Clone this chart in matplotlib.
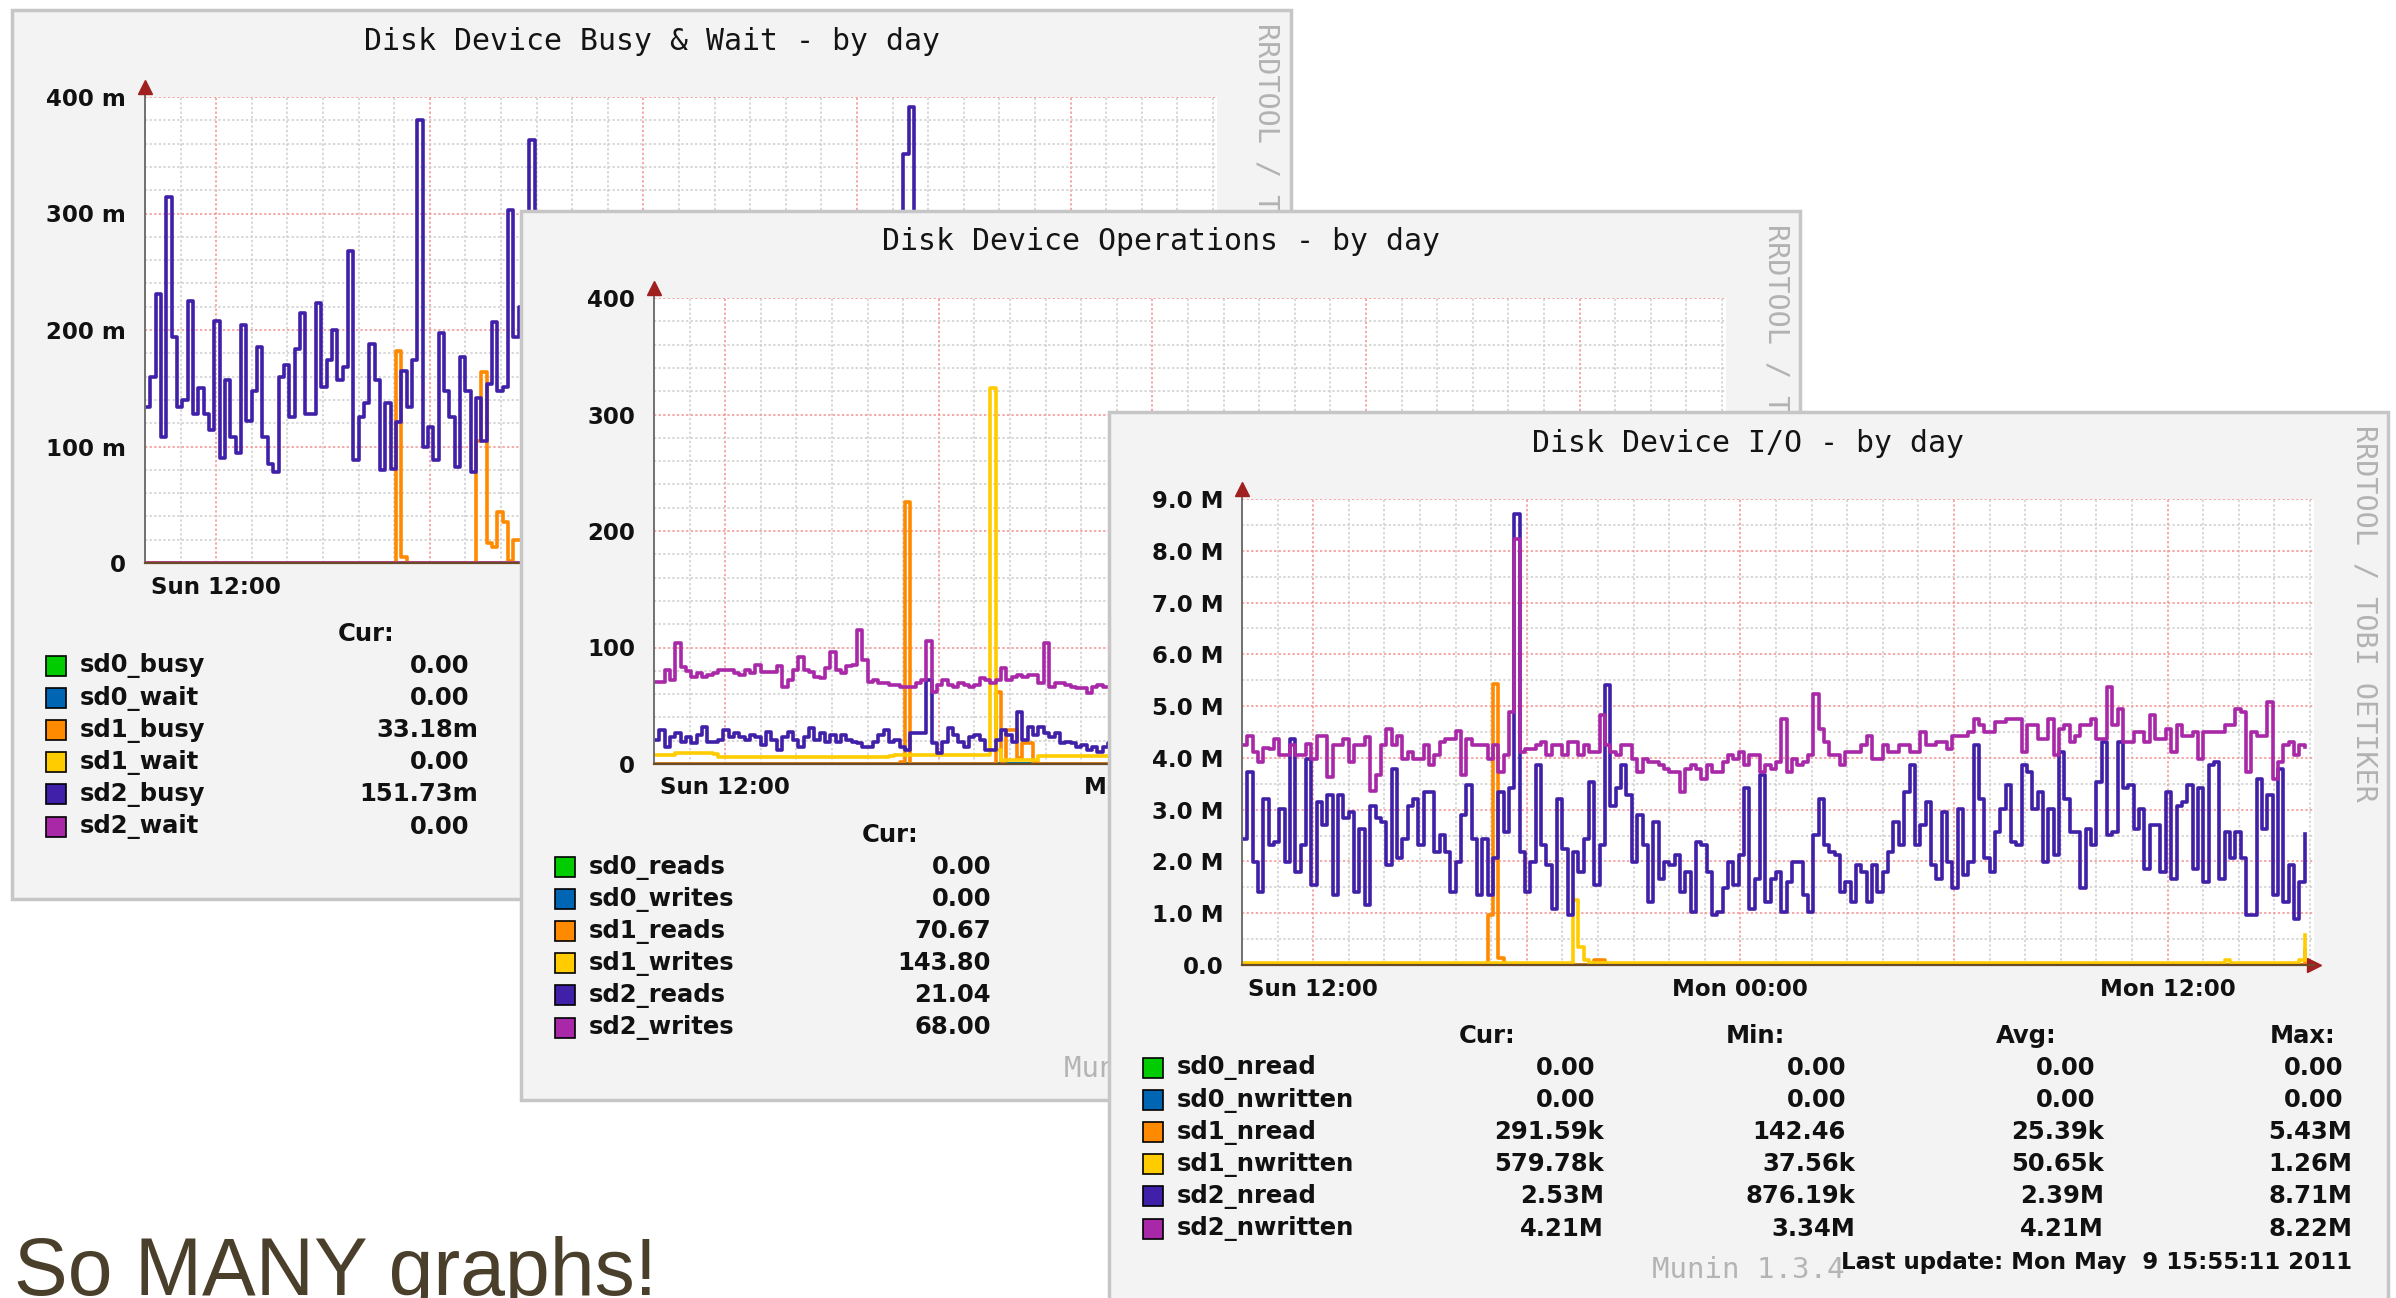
import numpy as np
import matplotlib
matplotlib.use("Agg")
import matplotlib.pyplot as plt
from matplotlib.patches import Rectangle

W, H = 2396, 1298
T0, STEP = 10.0, 0.15          # hours since Sun 00:00, one sample per step
PX_PER_HOUR = 35.6

# munin colour order
colors = ["#00cc00", "#0066b3", "#ff8a00", "#ffcc00", "#4020a8", "#a828a8"]

hour_major = [12, 18, 24, 30, 36]
hour_labels = ["Sun 12:00", "", "Mon 00:00", "", "Mon 12:00"]

# ---------------- Disk Device Busy & Wait (milli) ----------------
busy_names = ["sd0_busy", "sd0_wait", "sd1_busy", "sd1_wait", "sd2_busy", "sd2_wait"]
busy_cur = ["0.00", "0.00", "33.18m", "0.00", "151.73m", "0.00"]
sd2_busy = [134, 160, 231, 108, 314, 194, 134, 140, 225, 128,
            150, 128, 114, 208, 90, 157, 108, 94, 204, 122,
            148, 185, 108, 85, 78, 160, 170, 125, 184, 215,
            128, 128, 223, 151, 174, 200, 157, 168, 268, 88,
            125, 137, 188, 157, 80, 137, 81, 121, 165, 134,
            174, 380, 100, 117, 88, 197, 148, 125, 82, 177,
            148, 78, 142, 105, 154, 207, 148, 151, 303, 194,
            220, 168, 363,
            210, 160, 120, 185, 140, 95, 170, 205, 130, 150,
            115, 190, 240, 165, 100, 135, 180, 120, 85, 160,
            200, 145, 110, 175, 230, 150, 125, 90, 165, 140,
            185, 115, 150, 210, 130, 95, 170, 145, 120, 190,
            160, 105, 135, 220, 175, 140, 100, 155, 185, 125,
            90, 145, 170, 200, 130, 115, 160, 240, 150, 120,
            175, 135, 95, 150, 185, 210, 140, 110, 165,
            351, 391, 150,
            120, 180, 135, 100, 160, 195, 145, 115, 170, 130,
            90, 150, 205, 175, 125, 140, 110, 185, 160, 95,
            135, 170, 220, 145, 115, 150, 190, 130, 100, 165,
            140, 180, 120, 155, 210, 135, 95, 170, 145, 125,
            185, 160, 110, 140, 200, 150, 120, 175, 130, 165,
            140, 105, 180, 125, 151.73]
sd1_busy_idx = [47, 48, 62, 63, 64, 65, 66, 67, 68, 69, 70, 71, 199]
sd1_busy_val = [182, 5, 105, 164, 17, 14, 44, 35, 2, 20, 20, 8, 33.18]

# ---------------- Disk Device Operations ----------------
ops_names = ["sd0_reads", "sd0_writes", "sd1_reads", "sd1_writes", "sd2_reads", "sd2_writes"]
ops_cur = ["0.00", "0.00", "70.67", "143.80", "21.04", "68.00"]
sd2_writes = [70.7, 70.7, 80.7, 72.1, 103.6, 83.5, 80.0, 75.0, 77.8, 75.0,
              76.5, 77.8, 80.7, 80.7, 80.7, 77.8, 76.5, 80.7, 77.8, 85.0,
              79.3, 79.3, 79.3, 83.7, 66.3, 72.1, 80.7, 92.2, 80.7, 79.3,
              75.0, 73.5, 82.1, 96.0, 80.7, 77.8, 83.7, 85.0, 115.0, 89.0,
              70.7, 72.1, 69.2, 69.2, 67.8, 67.8, 66.3, 66.3, 66.3, 69.2,
              72.1, 106.0, 62.0, 67.8, 72.1, 67.8, 66.3, 69.2, 67.8, 66.3,
              67.8, 73.5, 72.1, 69.2, 72.1, 82.1, 72.1, 75.0, 76.5, 75.0,
              76.5, 76.5, 69.2, 103.6, 66.3, 69.2, 69.2, 67.8, 66.3, 64.9,
              64.9, 60.7, 66.3, 67.8, 66.3, 66.3,
              70, 68, 72, 75, 71, 69, 66, 73, 78, 72,
              70, 67, 65, 71, 74, 69, 72, 76, 70, 68,
              66, 71, 73, 69, 75, 80, 72, 70, 68, 71,
              74, 70, 67, 69, 72, 78, 73, 70, 68, 66,
              71, 75, 72, 69, 73, 70, 76, 82, 74, 71,
              69, 72, 75, 71, 68, 70, 73, 77, 72, 70,
              74, 71, 69, 72, 76, 73, 70, 68, 71, 75,
              72, 70, 74, 79, 73, 71, 69, 72, 75, 70,
              68, 71, 73, 70, 74, 77, 72, 69, 71, 73,
              70, 68, 72, 75, 71, 69, 73, 70, 67, 71,
              74, 72, 69, 71, 75, 70, 68, 72, 70, 69,
              71, 70, 69, 68.00]
sd2_reads = [20.6, 29.2, 14.9, 23.5, 26.3, 19.2, 23.5, 17.7, 24.9, 32.0,
             19.2, 19.2, 20.6, 29.2, 23.5, 26.3, 23.5, 20.6, 24.9, 23.5,
             16.3, 27.8, 20.6, 12.0, 23.5, 27.8, 20.6, 14.9, 23.5, 30.6,
             20.6, 26.3, 19.2, 24.9, 19.2, 24.9, 20.6, 19.2, 17.7, 14.9,
             14.9, 19.2, 24.9, 29.2, 19.2, 20.6, 14.9, 12.0, 26.3, 26.3,
             26.3, 72.1, 17.7, 9.2, 19.2, 30.6, 24.9, 19.2, 14.9, 23.5,
             24.9, 20.6, 12.0, 12.0, 20.6, 29.2, 24.9, 19.2, 44.9, 20.6,
             32.0, 24.9, 32.0, 26.3, 23.5, 26.3, 17.7, 19.2, 17.7, 14.9,
             16.3, 12.0, 14.9, 10.6, 14.9, 17.7,
             18, 22, 15, 25, 20, 17, 28, 21, 16, 24,
             19, 23, 14, 20, 26, 18, 22, 17, 25, 21,
             16, 20, 24, 19, 27, 22, 15, 21, 18, 23,
             20, 17, 25, 22, 19, 14, 21, 26, 18, 20,
             23, 17, 21, 28, 19, 16, 22, 24, 18, 21,
             25, 20, 15, 22, 19, 23, 17, 26, 21, 18,
             20, 24, 16, 22, 19, 27, 21, 17, 23, 20,
             18, 22, 25, 19, 16, 21, 24, 20, 17, 22,
             26, 19, 21, 15, 23, 20, 18, 25, 22, 19,
             17, 21, 24, 20, 16, 22, 19, 27, 21, 18,
             23, 20, 17, 22, 25, 19, 21, 16, 24, 20,
             18, 22, 19, 21.04]
sd1_writes = [7.7, 7.7, 7.7, 7.7, 9.2, 9.2, 9.2, 9.2, 9.2, 9.2,
              9.2, 8.5, 6.3, 6.3, 6.3, 6.3, 6.3, 6.3, 6.3, 6.3,
              6.3, 6.3, 6.3, 6.3, 6.3, 6.3, 6.3, 6.3, 6.3, 6.3,
              6.3, 6.3, 6.3, 6.3, 6.3, 6.3, 6.3, 6.3, 6.3, 6.3,
              6.3, 6.3, 6.3, 6.3, 6.9, 7.7, 7.7, 7.7, 7.7, 7.7,
              7.7, 7.7, 7.7, 7.7, 7.7, 7.7, 7.7, 7.7, 7.7, 7.7,
              7.7, 7.7, 7.7, 323, 12, 3.4, 3.4, 3.4, 3.4, 3.4,
              3.4, 3.4, 6.9, 6.9, 6.9, 6.9, 6.9, 6.9, 6.9, 6.9,
              6.9, 6.9, 6.9, 6.9, 6.9, 6.9,
              6.9, 6.9, 7.2, 7.2, 6.5, 6.5, 6.5, 6.9, 6.9, 6.9,
              7.5, 7.5, 6.6, 6.6, 6.6, 6.9, 6.9, 7.1, 7.1, 6.8,
              6.8, 6.8, 6.4, 6.4, 6.9, 6.9, 7.3, 7.3, 6.7, 6.7,
              6.7, 6.5, 6.5, 6.9, 6.9, 7.0, 7.0, 6.6, 6.6, 6.6,
              6.8, 6.8, 7.2, 7.2, 6.9, 6.9, 6.5, 6.5, 6.8, 6.8,
              7.1, 7.1, 6.7, 6.7, 6.9, 6.9, 6.6, 6.6, 7.0, 7.0,
              6.8, 6.8, 6.5, 6.5, 7.2, 7.2, 6.9, 6.9, 6.7, 6.7,
              7.0, 7.0, 6.6, 6.6, 6.8, 6.8, 7.1, 7.1, 6.9, 6.9,
              6.5, 6.5, 6.8, 6.8, 7.0, 7.0, 6.7, 6.7, 6.9, 6.9,
              7.2, 7.2, 6.6, 6.6, 6.8, 6.8, 7.0, 7.0, 6.7, 6.7,
              6.9, 6.9, 6.5, 6.5, 7.1, 7.1, 6.8, 6.8, 7.0, 7.0,
              6.8, 6.8, 24.5, 143.80]
sd1_reads_idx = [46, 47, 64, 65, 66, 67, 68, 69, 70, 71, 199]
sd1_reads_val = [2, 224.6, 62, 3, 29, 29, 5, 17.7, 17.7, 2, 70.67]

# ---------------- Disk Device I/O (M) ----------------
io_names = ["sd0_nread", "sd0_nwritten", "sd1_nread", "sd1_nwritten", "sd2_nread", "sd2_nwritten"]
io_cur = ["0.00", "0.00", "291.59k", "579.78k", "2.53M", "4.21M"]
io_min = ["0.00", "0.00", "142.46", "37.56k", "876.19k", "3.34M"]
io_avg = ["0.00", "0.00", "25.39k", "50.65k", "2.39M", "4.21M"]
io_max = ["0.00", "0.00", "5.43M", "1.26M", "8.71M", "8.22M"]
sd2_nread = [2.44, 3.73, 1.99, 1.41, 3.21, 2.31, 2.38, 3.02, 1.99, 4.37,
             1.80, 2.31, 3.98, 1.54, 3.15, 2.70, 3.28, 1.35, 3.28, 2.83,
             2.96, 1.41, 2.63, 1.16, 3.08, 2.83, 2.76, 1.93, 3.79, 2.06,
             2.44, 3.08, 3.21, 2.31, 3.34, 3.34, 2.19, 2.51, 2.19, 1.41,
             1.99, 2.89, 3.47, 2.44, 1.35, 2.44, 1.35, 2.06, 3.34, 2.57,
             3.41, 8.71, 2.19, 1.41, 1.99, 3.86, 2.31, 1.93, 1.09, 3.21,
             2.25, 0.96, 2.19, 1.80, 2.44, 3.53, 1.54, 2.31, 5.40, 3.08,
             3.41, 3.86, 3.28, 1.99, 2.89, 2.31, 1.22, 2.76, 1.67, 1.99,
             1.93, 2.12, 1.41, 1.80, 1.03, 2.38, 2.31, 1.80, 0.96, 1.03,
             1.48, 1.99, 1.54, 2.12, 3.41, 1.09, 1.67, 3.66, 1.22, 1.67,
             1.80, 1.03, 1.61, 1.99, 1.99, 1.35, 1.03, 2.51, 3.21, 2.31,
             2.19, 2.12, 1.41, 1.61, 1.22, 1.93, 1.80, 1.22, 1.93, 1.41,
             1.80, 2.19, 2.76, 2.31, 3.34, 3.86, 2.31, 2.70, 3.15, 1.93,
             1.67, 2.96, 1.99, 1.48, 3.02, 1.74, 1.99, 4.24, 3.21, 2.06,
             1.80, 2.57, 3.02, 3.47, 2.38, 2.31, 3.86, 3.73, 3.02, 3.34,
             1.99, 3.02, 2.12, 4.11, 3.21, 2.57, 2.57, 1.48, 2.63, 2.31,
             3.53, 4.31, 2.51, 2.57, 4.31, 3.41, 3.47, 2.63, 3.02, 1.86,
             2.70, 2.70, 1.80, 3.34, 1.67, 3.08, 3.15, 3.47, 1.86, 3.41,
             1.61, 3.86, 3.92, 1.67, 2.57, 2.06, 2.57, 2.06, 0.96, 0.96,
             3.60, 2.63, 3.28, 1.35, 3.79, 1.22, 1.93, 0.88, 1.61, 2.53]
sd2_nwritten = [4.24, 4.43, 4.11, 3.92, 4.20, 4.18, 4.37, 4.05, 4.05, 4.24,
                4.05, 4.05, 4.27, 3.98, 4.43, 4.43, 3.63, 4.24, 4.24, 4.37,
                3.92, 4.24, 4.24, 4.40, 3.37, 3.66, 4.24, 4.56, 4.24, 4.43,
                3.98, 4.11, 3.98, 3.98, 4.24, 3.86, 4.05, 4.31, 4.37, 4.37,
                4.51, 3.66, 4.37, 4.24, 4.24, 4.24, 3.98, 4.24, 3.73, 4.05,
                4.88, 8.22, 4.11, 4.18, 4.18, 4.24, 4.31, 4.05, 4.24, 4.24,
                4.05, 4.31, 4.31, 4.05, 4.24, 4.11, 4.11, 4.82, 4.24, 4.11,
                4.05, 4.24, 4.24, 3.98, 3.73, 3.98, 3.92, 3.92, 3.86, 3.79,
                3.73, 3.73, 3.34, 3.79, 3.86, 3.79, 3.60, 3.86, 3.73, 3.73,
                3.92, 4.05, 3.98, 4.11, 3.86, 4.05, 4.05, 3.73, 3.86, 3.79,
                3.92, 4.76, 3.73, 3.98, 3.86, 3.92, 4.05, 5.24, 4.56, 4.31,
                4.05, 4.05, 3.86, 4.11, 4.11, 4.11, 4.24, 4.43, 3.98, 3.98,
                4.24, 4.11, 4.11, 4.24, 4.24, 4.11, 4.11, 4.50, 4.24, 4.24,
                4.31, 4.31, 4.18, 4.43, 4.43, 4.43, 4.50, 4.76, 4.63, 4.50,
                4.50, 4.69, 4.69, 4.76, 4.76, 4.76, 4.11, 4.63, 4.63, 4.37,
                4.37, 4.76, 4.05, 4.56, 4.63, 4.31, 4.43, 4.63, 4.63, 4.76,
                4.37, 4.37, 5.37, 4.63, 4.95, 4.31, 4.31, 4.50, 4.50, 4.31,
                4.82, 4.37, 4.37, 4.56, 4.11, 4.63, 4.43, 4.43, 4.50, 3.98,
                4.50, 4.50, 4.50, 4.50, 4.63, 4.63, 4.95, 4.88, 3.73, 4.50,
                4.43, 4.43, 5.08, 3.60, 3.92, 4.24, 4.31, 4.05, 4.24, 4.21]
sd1_nread_idx = [46, 47, 48, 66, 67, 199]
sd1_nread_val = [0.96, 5.43, 0.14, 0.10, 0.10, 0.29]
sd1_nwritten_base = 0.0376
sd1_nwritten_idx = [62, 63, 64, 184, 198, 199]
sd1_nwritten_val = [1.26, 0.35, 0.10, 0.10, 0.10, 0.58]

N = len(sd2_nread)


def hours(v):
    return T0 + STEP * np.arange(len(v))


def sparse(idx, val, base=0.0):
    out = np.full(N, base)
    out[idx] = val
    return out


# ---------------- layout (pixels) ----------------
PW, PH = 1279, 889
PL, PT, AW, AH = 133, 87, 1072, 466
ROW0, ROWH = 656, 32.1

fig = plt.figure(figsize=(W / 100, H / 100), dpi=100)
fig.patch.set_facecolor("white")


def frac(x, y, w, h):
    return [x / W, 1 - (y + h) / H, w / W, h / H]


def panel(left, top, z, title, names, columns, munin=True, update=True):
    bg = fig.add_axes(frac(left, top, PW, PH), zorder=z)
    bg.set_xlim(0, PW)
    bg.set_ylim(PH, 0)
    bg.axis("off")
    bg.add_patch(Rectangle((0, 0), PW, PH, facecolor="#f3f3f3",
                           edgecolor="#c6c6c6", lw=2.5, clip_on=False))
    bg.text(PW / 2, 31, title, ha="center", va="center",
            family="DejaVu Sans Mono", fontsize=21.5, color="#141414")
    bg.text(1255, 13, "RRDTOOL / TOBI OETIKER", rotation=-90, ha="center",
            va="top", family="DejaVu Sans Mono", fontsize=20.5, color="#b2b2b2")
    # footer lines, only where the next graph does not cover them
    if munin:
        bg.text(PW / 2, 858, "Munin 1.3.4", ha="center", va="center",
                family="DejaVu Sans Mono", fontsize=21, color="#b4b4b4")
    if update:
        bg.text(1243, 850, "Last update: Mon May  9 15:55:11 2011", ha="right",
                va="center", fontsize=16.5, fontweight="bold", color="#111111")

    for k, (name, c) in enumerate(zip(names, colors)):
        y = ROW0 + k * ROWH
        bg.add_patch(Rectangle((34, y - 10), 20, 20, facecolor=c,
                               edgecolor="black", lw=1.2))
        bg.text(68, y, name, ha="left", va="center", fontsize=17.5,
                fontweight="bold", color="#111111")
    for head, hx, rx, vals in columns:
        bg.text(hx, ROW0 - 32, head, ha="center", va="center", fontsize=17.5,
                fontweight="bold", color="#111111")
        for k, v in enumerate(vals):
            # rrdtool pads plain numbers with a blank unit
            x = rx if v[-1].isalpha() else rx - 9
            bg.text(x, ROW0 + k * ROWH, v, ha="right", va="center",
                    fontsize=17.5, fontweight="bold", color="#111111")

    ax = fig.add_axes(frac(left + PL, top + PT, AW, AH), zorder=z + 1)
    return ax


def style_plot(ax, ymax, ymajor, ylabels, yminor):
    ax.set_facecolor("white")
    ax.set_xlim(T0, T0 + AW / PX_PER_HOUR)
    ax.set_ylim(0, ymax)
    tick_font = dict(fontsize=16.5, fontweight="bold", color="#111111")
    ax.set_yticks(ymajor, ylabels, **tick_font)
    ax.set_yticks(yminor, minor=True)
    ax.set_xticks(hour_major, hour_labels, **tick_font)
    ax.set_xticks(np.arange(11, 41), minor=True)
    ax.grid(which="major", color="#f29090", ls=(0, (1.5, 1.5)), lw=1.1)
    ax.grid(which="minor", color="#cdcdcd", ls=(0, (1.5, 1.5)), lw=1.1)
    ax.set_axisbelow(True)
    ax.tick_params(which="both", length=0)
    ax.tick_params(axis="y", pad=13.5)
    ax.tick_params(axis="x", pad=9)
    for s in ["top", "right"]:
        ax.spines[s].set_visible(False)
    ax.spines["left"].set_color("#707070")
    ax.spines["left"].set_linewidth(1.4)
    ax.spines["bottom"].set_color("#6b4a2a")
    ax.spines["bottom"].set_linewidth(1.6)
    # rrdtool axis arrows
    ax.plot([0, 0], [1, 1.02], transform=ax.transAxes, color="#707070",
            lw=1.4, clip_on=False)
    ax.plot([0], [1.022], marker="^", ms=10, color="#a02020",
            transform=ax.transAxes, clip_on=False)
    ax.plot([1.0], [0], marker=">", ms=10, color="#a02020",
            transform=ax.transAxes, clip_on=False)


def lines(ax, series):
    for v, c in zip(series, colors):
        ax.plot(hours(v), v, color=c, lw=2.6, drawstyle="steps-post")


# panel 1
ax1 = panel(12, 10, 1, "Disk Device Busy & Wait - by day", busy_names,
            [("Cur:", 354, 466, busy_cur)], munin=False, update=False)
style_plot(ax1, 400, [0, 100, 200, 300, 400],
           ["0", "100 m", "200 m", "300 m", "400 m"], np.arange(0, 401, 20))
lines(ax1, [np.zeros(N), np.zeros(N), sparse(sd1_busy_idx, sd1_busy_val),
            np.zeros(N), sd2_busy, np.zeros(N)])

# panel 2
ax2 = panel(521, 211, 3, "Disk Device Operations - by day", ops_names,
            [("Cur:", 369, 479, ops_cur)], update=False)
style_plot(ax2, 400, [0, 100, 200, 300, 400],
           ["0", "100", "200", "300", "400"], np.arange(0, 401, 20))
lines(ax2, [np.zeros(N), np.zeros(N), sparse(sd1_reads_idx, sd1_reads_val),
            sd1_writes, sd2_reads, sd2_writes])

# panel 3
ax3 = panel(1109, 412, 5, "Disk Device I/O - by day", io_names,
            [("Cur:", 378, 495, io_cur), ("Min:", 646, 746, io_min),
             ("Avg:", 917, 995, io_avg), ("Max:", 1194, 1243, io_max)])
style_plot(ax3, 9, np.arange(0, 10),
           ["0.0"] + [f"{m}.0 M" for m in range(1, 10)], np.arange(0, 9.01, 0.5))
lines(ax3, [np.zeros(N), np.zeros(N), sparse(sd1_nread_idx, sd1_nread_val),
            sparse(sd1_nwritten_idx, sd1_nwritten_val, sd1_nwritten_base),
            sd2_nread, sd2_nwritten])

fig.text(14 / W, 1 - 1295 / H, "So MANY graphs!", ha="left", va="baseline",
         family="Liberation Sans", fontsize=58, color="#4a3f2b")

fig.savefig("out.png", dpi=100, facecolor="white")
